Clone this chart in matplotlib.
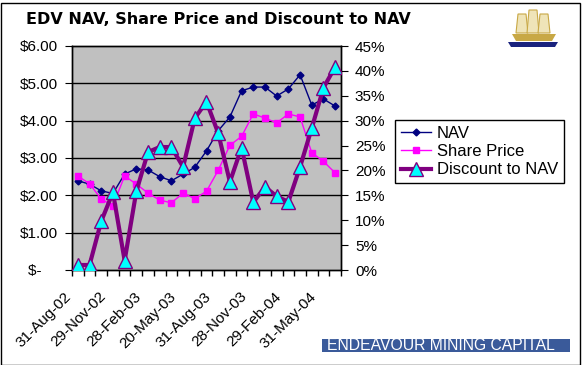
import numpy as np
import matplotlib
matplotlib.use("Agg")
import matplotlib.pyplot as plt
import matplotlib.transforms as mtransforms
from matplotlib.ticker import FuncFormatter, MultipleLocator, FixedLocator
from matplotlib.patches import Rectangle, Polygon
from matplotlib.lines import Line2D

dates = ["31-Aug-02", "30-Sep-02", "31-Oct-02", "29-Nov-02", "31-Dec-02", "31-Jan-03",
         "28-Feb-03", "31-Mar-03", "30-Apr-03", "20-May-03", "30-Jun-03", "31-Jul-03",
         "31-Aug-03", "30-Sep-03", "31-Oct-03", "28-Nov-03", "31-Dec-03", "31-Jan-04",
         "29-Feb-04", "31-Mar-04", "30-Apr-04", "31-May-04", "30-Jun-04"]
nav = [2.39, 2.30, 2.12, 2.05, 2.57, 2.71, 2.68, 2.50, 2.39, 2.57, 2.75, 3.19,
       3.73, 4.10, 4.80, 4.90, 4.90, 4.66, 4.85, 5.23, 4.42, 4.58, 4.39]
share_price = [2.52, 2.31, 1.90, 1.72, 2.52, 2.30, 2.06, 1.87, 1.80, 2.06, 1.91, 2.11,
               2.67, 3.34, 3.58, 4.18, 4.07, 3.94, 4.18, 4.10, 3.14, 2.91, 2.60]
discount = [1.0, 1.0, 9.8, 15.6, 1.9, 15.8, 23.7, 24.7, 24.7, 20.7, 30.5, 33.8,
            27.5, 17.7, 24.6, 13.6, 16.7, 14.8, 13.7, 20.7, 28.5, 36.6, 40.8]
label_every = 3

W, H = 582, 365
fig = plt.figure(figsize=(W / 100, H / 100), dpi=100)
fig.patch.set_facecolor("white")

L, R, T, B = 72, 341, 46, 270
ax = fig.add_axes([L / W, 1 - B / H, (R - L) / W, (B - T) / H])
ax.set_facecolor("#C0C0C0")
x = np.arange(len(dates))

ax.plot(x, nav, color="#000080", lw=1, marker="D", ms=3.5, mfc="#000080", mec="#000080", zorder=3)
ax.plot(x, share_price, color="#FF00FF", lw=1, marker="s", ms=4, mfc="#FF00FF", mec="#FF00FF", zorder=3)
ax.set_ylim(0, 6)
ax.set_xlim(-0.5, len(dates) - 0.5)
ax.yaxis.set_major_locator(MultipleLocator(1))
ax.yaxis.set_major_formatter(FuncFormatter(lambda v, p: "$-    " if abs(v) < 1e-9 else f"${v:.2f}"))
for yv in range(1, 6):
    ax.axhline(yv, color="black", lw=1, zorder=1)

ax2 = ax.twinx()
ax2.plot(x, discount, color="#800080", lw=3, marker="^", ms=10, mfc="#00FFFF", mec="#800080", mew=1, zorder=4)
ax2.set_ylim(0, 45)
ax2.yaxis.set_major_locator(MultipleLocator(5))
ax2.yaxis.set_major_formatter(FuncFormatter(lambda v, p: f"{int(round(v))}%"))

ax.set_xticks(x[::label_every])
ax.set_xticklabels(dates[::label_every], rotation=45, ha="right", va="top", rotation_mode="anchor")
ax.xaxis.set_minor_locator(FixedLocator(np.arange(-0.5, len(dates), 1)))
ax.tick_params(axis="x", which="major", length=0, pad=14, labelsize=11)
ax.tick_params(axis="x", which="minor", length=4, direction="out", width=1)
ax.tick_params(axis="y", length=5, direction="out", labelsize=11, pad=5)
ax2.tick_params(axis="y", length=5, direction="out", labelsize=11, pad=5)
shift = mtransforms.ScaledTranslation(-14 / 100, 0, fig.dpi_scale_trans)
for lab in ax.get_xticklabels():
    lab.set_transform(lab.get_transform() + shift)
for a in (ax, ax2):
    for s in a.spines.values():
        s.set_linewidth(1)
        s.set_color("black")
    for lab in a.get_xticklabels() + a.get_yticklabels():
        lab.set_fontfamily("Liberation Sans")

handles = [Line2D([], [], color="#000080", lw=1, marker="D", ms=3.5),
           Line2D([], [], color="#FF00FF", lw=1, marker="s", ms=4),
           Line2D([], [], color="#800080", lw=3, marker="^", ms=10, mfc="#00FFFF", mec="#800080")]
leg = fig.legend(handles, ["NAV", "Share Price", "Discount to NAV"],
                 loc="upper left", bbox_to_anchor=(395 / W, 1 - 120 / H),
                 prop={"family": "Liberation Sans", "size": 12}, frameon=True, fancybox=False,
                 edgecolor="black", framealpha=1, borderpad=0.35, labelspacing=0.2,
                 handlelength=1.8, handletextpad=0.35, borderaxespad=0)
leg.get_frame().set_linewidth(1)

fig.text(26 / W, 1 - 20 / H, "EDV NAV, Share Price and Discount to NAV", fontsize=11.5,
         fontweight="bold", family="DejaVu Sans", ha="left", va="center")

# Company banner
fig.patches.append(Rectangle((322 / W, 1 - 352 / H), 248 / W, 13 / H, transform=fig.transFigure,
                             fc="#3A5A9A", ec="none"))
fig.text(441 / W, 1 - 345.5 / H, "ENDEAVOUR MINING CAPITAL", fontsize=11.3, color="white",
         family="Liberation Sans", ha="center", va="center")

# Simple ship logo stand-in
def P(px, py):
    return (px / W, 1 - py / H)
gold = "#C8A845"
fig.patches.append(Polygon([P(512, 34), P(556, 34), P(552, 41), P(516, 41)], closed=True,
                           transform=fig.transFigure, fc=gold, ec="none"))
for mx, top in ((522, 14), (533, 10), (544, 14)):
    fig.patches.append(Polygon([P(mx - 6, 33), P(mx + 6, 33), P(mx + 4, top), P(mx - 4, top)], closed=True,
                               transform=fig.transFigure, fc="#EFE4B8", ec=gold, lw=0.8))
fig.patches.append(Polygon([P(508, 42), P(558, 42), P(555, 47), P(511, 47)], closed=True,
                           transform=fig.transFigure, fc="#1A237E", ec="none"))

fig.patches.append(Rectangle((0.5 / W, 0.5 / H), 1 - 3 / W, 1 - 3 / H, transform=fig.transFigure,
                             fill=False, ec="black", lw=1))

fig.savefig("out.png", dpi=100, facecolor="white")
